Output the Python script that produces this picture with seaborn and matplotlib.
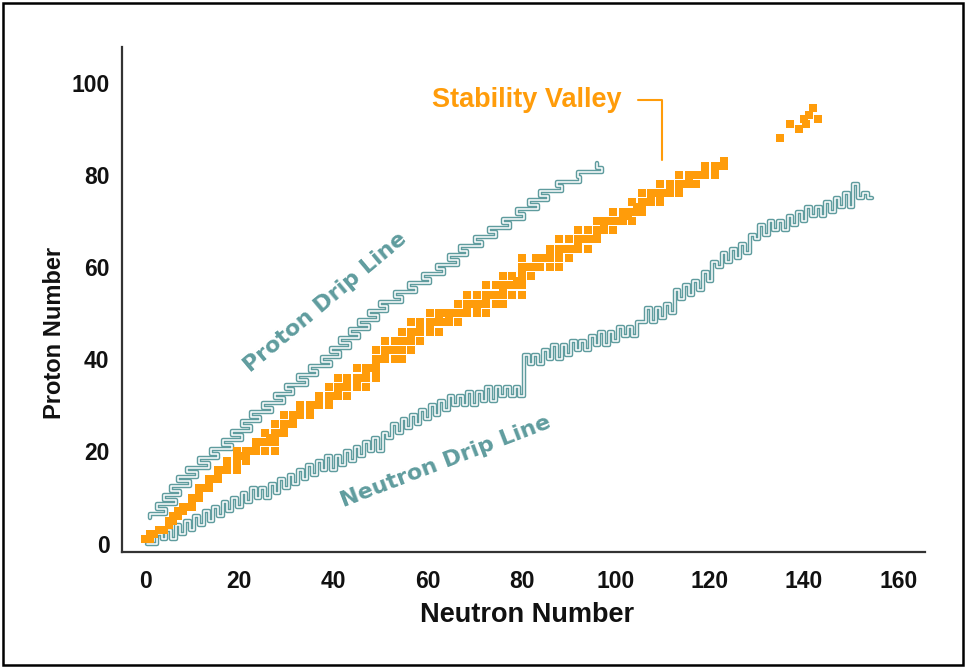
import numpy as np
import pandas as pd
import matplotlib
matplotlib.use("Agg")
import matplotlib.pyplot as plt
import matplotlib.patheffects as pe
from matplotlib.patches import Rectangle
import seaborn as sns

# ---------------- data (in chart units) ----------------
# stable nuclides (neutron number, proton number), one line per element
stable_n = [
    0, 1,
    1, 2,
    3, 4,
    5,
    5, 6,
    6, 7,
    7, 8,
    8, 9, 10,
    10,
    10, 10.5, 11.5,
    11.5,
    11.5, 12.5, 13.5,
    13.5,
    13.5, 14.5, 15.5,
    15.5,
    15.5, 16.5, 17.5, 19.5,
    17.5, 19.5,
    17.5, 19.5, 21.5,
    19.5, 20.5, 21.5,
    19.5, 21.5, 22.5, 23.5, 25.5, 27.5,
    23.5,
    23.5, 24.5, 25.5, 26.5, 27.5,
    26.5, 27.5,
    25.5, 27.5, 28.5, 29.5,
    29.5,
    27.5, 29.5, 30.5, 31.5,
    31.5,
    29.5, 31.5, 32, 33, 35,
    33, 35,
    33, 35, 36, 37, 39,
    37, 39,
    37, 39, 40, 41, 43,
    41,
    39, 41, 42, 43, 45, 47,
    43, 45,
    41, 43, 45, 46, 47, 49,
    47, 49,
    45, 47, 48, 49,
    49,
    49, 50, 51, 53, 54.5,
    51,
    49, 51, 52, 53, 53.5, 54.5, 56.5,
    51, 53, 53.5, 54.5, 55.5, 56.5, 58.5,
    56.5,
    54.5, 56.5, 57.5, 58.5, 60.5, 62.5,
    58.5, 60.5,
    56.5, 58.5, 60.5, 61.5, 62.5, 63.5, 64.5, 66.5,
    62.5, 64.5,
    60.5, 62.5, 63.5, 64.5, 65.5, 66.5, 67.5, 68.5, 70.5, 72.5,
    68.5, 70.5,
    66.5, 68.5, 69.5, 70.5, 71.5, 72.5, 74.5, 76,
    72.5,
    68.5, 70.5, 72.5, 73.5, 74.5, 75, 76, 78, 80,
    76,
    72.5, 74.5, 76, 77, 78, 79, 80,
    79, 80,
    76, 78, 80, 82,
    80,
    80, 81, 82, 83, 84, 86, 88,
    80, 83, 84, 85, 86, 88, 90,
    86, 88,
    86, 88, 89, 90, 91, 92, 94,
    92,
    88, 90, 92, 93, 94, 95, 96,
    96,
    92, 94, 96, 97, 97.5, 99.5,
    97.5,
    96, 97.5, 98.5, 99.5, 100.5, 101.5, 103.5,
    101.5, 102.5,
    99.5, 101.5, 102.5, 103.5, 104.5, 105.5,
    104.5, 105.5,
    103.5, 105.5, 106.5, 107.5, 109.5,
    107.5, 109.5,
    105.5, 107.5, 108.5, 109.5, 110.5, 111.5, 113.5,
    111.5, 113.5,
    109.5, 111.5, 113.5, 114.5, 115.5, 117,
    115.5,
    113.5, 115.5, 116.5, 117, 118, 119, 121,
    119, 121,
    119, 121, 122, 123,
    123,
]
stable_z = [
    1, 1,
    2, 2,
    3, 3,
    4,
    5, 5,
    6, 6,
    7, 7,
    8, 8, 8,
    9,
    10, 10, 10,
    11,
    12, 12, 12,
    13,
    14, 14, 14,
    15,
    16, 16, 16, 16,
    17, 17,
    18, 18, 18,
    19, 19, 19,
    20, 20, 20, 20, 20, 20,
    21,
    22, 22, 22, 22, 22,
    23, 23,
    24, 24, 24, 24,
    25,
    26, 26, 26, 26,
    27,
    28, 28, 28, 28, 28,
    29, 29,
    30, 30, 30, 30, 30,
    31, 31,
    32, 32, 32, 32, 32,
    33,
    34, 34, 34, 34, 34, 34,
    35, 35,
    36, 36, 36, 36, 36, 36,
    37, 37,
    38, 38, 38, 38,
    39,
    40, 40, 40, 40, 40,
    41,
    42, 42, 42, 42, 42, 42, 42,
    44, 44, 44, 44, 44, 44, 44,
    45,
    46, 46, 46, 46, 46, 46,
    47, 47,
    48, 48, 48, 48, 48, 48, 48, 48,
    49, 49,
    50, 50, 50, 50, 50, 50, 50, 50, 50, 50,
    51, 51,
    52, 52, 52, 52, 52, 52, 52, 52,
    53,
    54, 54, 54, 54, 54, 54, 54, 54, 54,
    55,
    56, 56, 56, 56, 56, 56, 56,
    57, 57,
    58, 58, 58, 58,
    59,
    60, 60, 60, 60, 60, 60, 60,
    62, 62, 62, 62, 62, 62, 62,
    63, 63,
    64, 64, 64, 64, 64, 64, 64,
    65,
    66, 66, 66, 66, 66, 66, 66,
    67,
    68, 68, 68, 68, 68, 68,
    69,
    70, 70, 70, 70, 70, 70, 70,
    71, 71,
    72, 72, 72, 72, 72, 72,
    73, 73,
    74, 74, 74, 74, 74,
    75, 75,
    76, 76, 76, 76, 76, 76, 76,
    77, 77,
    78, 78, 78, 78, 78, 78,
    79,
    80, 80, 80, 80, 80, 80, 80,
    81, 81,
    82, 82, 82, 82,
    83,
]
# long-lived heavy nuclides (isolated cluster at upper right)
heavy_n = [135, 137, 139, 140, 141, 142, 143, 140.5]
heavy_z = [88, 91, 90, 92, 93, 94.5, 92, 91]

# proton drip line: lightest neutron number for each proton number
pdrip_z = list(range(6, 83))
pdrip_n = [1, 4.5, 2.5, 6.5, 4, 7.5, 5.5, 9.5, 7, 11, 9, 13.5, 11.5, 15.5, 14, 18.5,
           16.5, 20.5, 18.5, 22.5, 20.5, 24.5, 22.5, 27, 25, 29.5, 27.5, 31.5, 30,
           34.5, 32.5, 36.5, 35, 39.5, 37.5, 41.5, 39.5, 43.5, 41.5, 45.5, 43.5,
           47.5, 45.5, 49.5, 47.5, 51.5, 50, 54.5, 53, 57.5, 56, 60.5, 59, 63.5, 62,
           66.5, 64.5, 68.5, 67, 71.5, 70, 74.5, 73, 77.5, 76, 80.5, 79, 83.5, 81.5,
           85.5, 84, 88.5, 87.5, 92.5, 92, 97, 96]

# neutron drip line: lowest proton number for each neutron number
ndrip_n = list(range(1, 155))
ndrip_z = [0, 0, 2, 1, 3, 1, 4, 2, 5, 3, 6, 4, 7, 5, 8, 6, 9, 7, 10, 8,
           11, 9, 12, 10, 12, 10, 13, 11, 14, 12, 15, 13, 16, 14, 17, 15, 18, 16, 19, 16,
           19, 17, 20, 18, 21, 19, 22, 20, 23, 20, 24, 23, 26, 24, 27, 25, 28, 26, 29, 27,
           30, 28, 31, 29, 32, 30, 32, 30, 33, 30, 33, 31, 34, 31, 34, 32, 34, 32, 34, 32,
           41, 39, 41, 39, 42, 40, 43, 40, 43, 41, 44, 42, 44, 42, 45, 43, 46, 43, 46, 44,
           47, 45, 47, 45, 48, 48, 51, 48, 51, 49, 52, 50, 55, 53, 56, 54, 57, 55, 59, 57,
           61, 60, 63, 61, 64, 62, 65, 63, 67, 66, 69, 67, 70, 68, 70, 68, 71, 69, 72, 70,
           73, 71, 73, 71, 74, 72, 75, 73, 76, 73, 78, 75, 76, 75]

x_ticks = [0, 20, 40, 60, 80, 100, 120, 140, 160]
y_ticks = [0, 20, 40, 60, 80, 100]

ORANGE = "#FF9C0A"
TEAL = "#5F9C9E"

# ---------------- figure ----------------
sns.set_style("white")
plt.rcParams["font.family"] = ["Liberation Sans", "DejaVu Sans"]

fig = plt.figure(figsize=(9.66, 6.68), dpi=100)
ax = fig.add_axes([122 / 966, (668 - 552) / 668, (925 - 122) / 966, (552 - 47) / 668])

# stability valley squares
valley = pd.DataFrame({"N": list(stable_n) + list(heavy_n),
                       "Z": list(stable_z) + list(heavy_z)})
sns.scatterplot(data=valley, x="N", y="Z", marker="s", s=30, color=ORANGE,
                linewidth=0, ax=ax, zorder=3)

# drip lines drawn as staircases with a double (outlined) stroke
pn = np.repeat(np.asarray(pdrip_n, float), 2)
pz = np.ravel([[z - 0.5, z + 0.5] for z in pdrip_z])
nz = np.repeat(np.asarray(ndrip_z, float), 2)
nn = np.ravel([[n - 0.5, n + 0.5] for n in ndrip_n])

outline = [pe.Stroke(linewidth=3.2, foreground=TEAL), pe.Normal()]
for xs, ys in ((pn, pz), (nn, nz)):
    sns.lineplot(x=xs, y=ys, sort=False, estimator=None, color="white",
                 linewidth=1.1, ax=ax, zorder=2)
    ax.lines[-1].set_path_effects(outline)

# labels on the chart
ax.text(81, 96.3, "Stability Valley", color=ORANGE, fontsize=19.5,
        fontweight="bold", ha="center", va="center")
sns.lineplot(x=[104.8, 109.9, 109.9], y=[96.2, 96.2, 83.2], sort=False,
             estimator=None, color=ORANGE, linewidth=1.5, ax=ax)
ax.text(38.3, 52.4, "Proton Drip Line", color=TEAL, fontsize=16,
        fontweight="bold", family="DejaVu Sans", rotation=40,
        ha="center", va="center", rotation_mode="anchor")
ax.text(63.8, 17.8, "Neutron Drip Line", color=TEAL, fontsize=16,
        fontweight="bold", family="DejaVu Sans", rotation=21,
        ha="center", va="center", rotation_mode="anchor")

# axes styling
ax.set_xlim(-4.9, 165.7)
ax.set_ylim(-1.8, 107.7)
ax.set_xticks(x_ticks)
ax.set_yticks(y_ticks)
ax.set_xticklabels([str(t) for t in x_ticks])
ax.set_yticklabels([str(t) for t in y_ticks])
for side in ("top", "right"):
    ax.spines[side].set_visible(False)
for side in ("left", "bottom"):
    ax.spines[side].set_color("#333333")
    ax.spines[side].set_linewidth(1.6)
ax.tick_params(axis="both", direction="in", length=7, width=1.5, color="#333333",
               labelsize=16.5, labelcolor="#111111")
ax.tick_params(axis="x", pad=13)
ax.tick_params(axis="y", pad=9)
for lab in ax.get_xticklabels() + ax.get_yticklabels():
    lab.set_fontweight("bold")

ax.set_xlabel("Neutron Number", fontsize=19.5, fontweight="bold", color="#111111")
ax.set_ylabel("Proton Number", fontsize=17, fontweight="bold", color="#111111")
ax.xaxis.set_label_coords((527 - 122) / (925 - 122), -(602 - 552) / (552 - 47))
ax.yaxis.set_label_coords(-(122 - 66) / (925 - 122), (552 - 333) / (552 - 47))

# outer frame
fig.patches.append(Rectangle((3 / 966, 3 / 668), 960 / 966, 662 / 668,
                             transform=fig.transFigure, fill=False,
                             edgecolor="black", linewidth=1.8))

fig.savefig("out.png", dpi=100)
